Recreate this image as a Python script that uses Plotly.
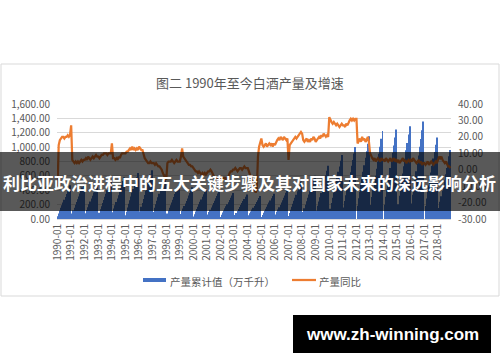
import plotly.graph_objects as go

# ---------------- data ----------------
years = list(range(1990, 2019))
month_codes = ["01", "02", "03", "04", "05", "06", "07", "08", "09", "10", "11", "12"]
categories = [f"{y}-{m}" for y in years for m in month_codes]
tick_labels = [f"{y}-01" for y in years]

left_ticks = [0, 200, 400, 600, 800, 1000, 1200, 1400, 1600]
left_tick_labels = ["0.00", "200.00", "400.00", "600.00", "800.00", "1,000.00", "1,200.00", "1,400.00", "1,600.00"]
right_ticks = [-30, -20, -10, 0, 10, 20, 30, 40]
right_tick_labels = ["-30.00", "-20.00", "-10.00", "0.00", "10.00", "20.00", "30.00", "40.00"]

# cumulative production (万千升), monthly
prod_1990s = [
    38, 75, 118, 155, 193, 230, 268, 306, 348, 385, 428, 470,
    38, 77, 120, 158, 197, 235, 274, 312, 355, 394, 437, 480,
    40, 80, 125, 165, 205, 245, 285, 325, 370, 410, 455, 500,
    43, 86, 135, 178, 221, 265, 308, 351, 400, 443, 491, 540,
    46, 93, 145, 191, 238, 284, 331, 377, 429, 476, 528, 580,
    51, 102, 160, 211, 262, 314, 365, 416, 474, 525, 582, 640,
    54, 109, 170, 224, 279, 333, 388, 442, 503, 558, 619, 680,
    50, 99, 155, 205, 254, 304, 353, 403, 459, 508, 564, 620,
    38, 75, 118, 155, 193, 230, 268, 306, 348, 385, 428, 470,
    35, 70, 110, 145, 180, 216, 251, 286, 326, 361, 400, 440,
]
prod_2000s = [
    34, 67, 105, 139, 172, 206, 239, 273, 311, 344, 382, 420,
    31, 62, 98, 129, 160, 191, 222, 254, 289, 320, 355, 390,
    29, 58, 90, 119, 148, 176, 205, 234, 266, 295, 328, 360,
    27, 54, 85, 112, 139, 167, 194, 221, 252, 279, 309, 340,
    26, 51, 80, 106, 131, 157, 182, 208, 237, 262, 291, 320,
    28, 56, 88, 116, 144, 172, 200, 228, 259, 287, 319, 350,
    32, 64, 100, 132, 164, 196, 228, 260, 296, 328, 364, 400,
    42, 83, 130, 172, 213, 255, 296, 338, 385, 426, 473, 520,
    48, 96, 150, 198, 246, 294, 342, 390, 444, 492, 546, 600,
    59, 118, 185, 244, 303, 363, 422, 481, 548, 607, 673, 740,
]
prod_2010s = [
    71, 142, 223, 294, 365, 436, 507, 579, 659, 730, 810, 890,
    80, 160, 250, 330, 410, 490, 570, 650, 740, 820, 910, 1000,
    None, 184, 288, 380, 472, 564, 656, 748, 851, 943, 1047, 1150,
    None, 196, 306, 404, 502, 600, 698, 796, 907, 1005, 1115, 1225,
    None, 199, 311, 411, 510, 610, 710, 809, 921, 1021, 1133, 1245,
    None, 206, 323, 426, 529, 632, 735, 839, 955, 1058, 1174, 1290,
    None, 217, 339, 448, 556, 665, 773, 882, 1004, 1113, 1235, 1357,
    None, 182, 284, 375, 465, 556, 647, 738, 840, 931, 1033, 1135,
    None, 154, 240, 317, 394, 470, 547, 624, 710, 787, 874, 960,
]

# year-on-year growth (%), monthly
yoy_1990s = [
    -10, 15, 18, 19, 20, 20, 19, 20, 20, 21, 20, 21,
    27, 6, 5, 4, 5, 4, 5, 4, 5, 6, 5, 6,
    6, 7, 6, 8, 7, 6, 7, 8, 7, 8, 9, 8,
    8, 7, 8, 9, 9, 10, 10, 10, 9, 10, 10, 10,
    16, 7, 7, 6, 7, 6, 8, 7, 9, 10, 10, 10,
    10, 11, 11, 12, 13, 12, 14, 12, 13, 12, 13, 12,
    14, 13, 12, 12, 9, 7, 6, 5, 4, 4, 5, 4,
    4, 4, 3, 4, 3, 2, 2, 1, 0, -2, -4, -5,
    -6, 4, 5, 5, 5, 6, 5, 4, 5, 6, 5, 5,
    5, 8, 13, 8, 7, 6, 5, 4, 3, 3, 2, 2,
]
yoy_2000s = [
    1, 0, -1, -1, -2, -1, -2, -3, -2, -3, -2, -3,
    -2, -1, -1, 0, -1, -3, -4, -5, -5, -6, -6, -5,
    -5, -6, -6, -5, -5, -6, -5, -4, -2, -1, -1, 0,
    0, 1, 0, -1, 0, 1, 1, 0, 1, 2, 1, 1,
    1, -1, -3, -5, -7, -9, -11, -14, -12, 8, 14, 16,
    19, 15, 14, 15, 16, 14, 15, 16, 15, 16, 14, 16,
    15, 17, 18, 19, 18, 20, 19, 18, 20, 19, 18, 19,
    6, 15, 16, 17, 18, 19, 20, 19, 20, 21, 22, 23,
    22, 18, 17, 18, 19, 17, 18, 17, 19, 18, 20, 19,
    17, 18, 19, 20, 19, 21, 20, 22, 21, 20, 21, 20,
]
yoy_2010s = [
    32, 30, 29, 28, 29, 28, 27, 28, 27, 26, 27, 28,
    27, 27, 26, 28, 27, 29, 30, 31, 30, 31, 30, 31,
    31, 16, 18, 19, 17, 20, 18, 19, 17, 18, 20, 17,
    10, 8, 7, 6, 7, 5, 6, 7, 6, 5, 7, 6,
    6, 5, 7, 6, 5, 6, 7, 5, 6, 7, 5, 6,
    5, 6, 4, 5, 6, 7, 5, 6, 4, 5, 6, 5,
    6, 5, 7, 6, 5, 4, 5, 6, 4, 5, 3, 4,
    4, 3, 4, 5, 3, 4, 5, 4, 3, 4, 5, 4,
    7, 8, 7, 8, 6, 5, 4, 5, 3, 2, 2, 1,
]

production = prod_1990s + prod_2000s + prod_2010s
yoy = yoy_1990s + yoy_2000s + yoy_2010s

# ---------------- layout helpers ----------------
W, H = 500, 362
L, R, T, B = 57, 49, 104, 143
PW, PH = W - L - R, H - T - B


def px(x):
    return (x - L) / PW


def py(y):
    return (H - B - y) / PH


FONT = "Noto Sans CJK SC, Noto Sans, sans-serif"
GRAY = "#595959"

fig = go.Figure()
fig.add_trace(go.Bar(
    x=categories, y=production, yaxis="y",
    marker=dict(color="#4472C4", line=dict(width=0)),
    name="产量累计值（万千升）", hoverinfo="skip",
))
fig.add_trace(go.Scatter(
    x=categories, y=yoy, yaxis="y2", mode="lines",
    line=dict(color="#ED7D31", width=2.25),
    name="产量同比", hoverinfo="skip",
))

shapes = [
    # chart panel border
    dict(type="rect", xref="paper", yref="paper", x0=px(1), x1=px(499), y0=py(296), y1=py(64),
         line=dict(color="#d9d9d9", width=1), fillcolor="rgba(0,0,0,0)", layer="below"),
    # legend samples
    dict(type="line", xref="paper", yref="paper", x0=px(143), x1=px(166), y0=py(280), y1=py(280),
         line=dict(color="#4472C4", width=4)),
    dict(type="line", xref="paper", yref="paper", x0=px(292), x1=px(316), y0=py(280), y1=py(280),
         line=dict(color="#ED7D31", width=2.25)),
    # overlay banner
    dict(type="rect", xref="paper", yref="paper", x0=px(0), x1=px(500), y0=py(211), y1=py(152),
         line=dict(width=0), fillcolor="rgba(0,0,0,0.65)", layer="above"),
    # watermark box
    dict(type="rect", xref="paper", yref="paper", x0=px(293), x1=px(491), y0=py(353), y1=py(315),
         line=dict(width=0), fillcolor="#000000", layer="above"),
]

annotations = [
    dict(text="图二 1990年至今白酒产量及增速", xref="paper", yref="paper", x=px(250), y=py(82),
         showarrow=False, xanchor="center", yanchor="middle",
         font=dict(family=FONT, size=13, color=GRAY)),
    dict(text="产量累计值（万千升）", xref="paper", yref="paper", x=px(168), y=py(281),
         showarrow=False, xanchor="left", yanchor="middle",
         font=dict(family=FONT, size=10.5, color=GRAY)),
    dict(text="产量同比", xref="paper", yref="paper", x=px(317), y=py(281),
         showarrow=False, xanchor="left", yanchor="middle",
         font=dict(family=FONT, size=10.5, color=GRAY)),
    dict(text="<b>利比亚政治进程中的五大关键步骤及其对国家未来的深远影响分析</b>", xref="paper", yref="paper",
         x=px(249), y=py(182), showarrow=False, xanchor="center", yanchor="middle",
         font=dict(family=FONT, size=17, color="#ffffff")),
    dict(text="<b>www.zh-winning.com</b>", xref="paper", yref="paper",
         x=px(392), y=py(334), showarrow=False, xanchor="center", yanchor="middle",
         font=dict(family="Liberation Sans, Arial, sans-serif", size=17, color="#ffffff")),
]

fig.update_layout(
    width=W, height=H,
    margin=dict(l=L, r=R, t=T, b=B, pad=0),
    paper_bgcolor="#ffffff", plot_bgcolor="#ffffff",
    showlegend=False, bargap=0.15,
    font=dict(family=FONT, color=GRAY, size=10),
    shapes=shapes, annotations=annotations,
    xaxis=dict(
        type="category", categoryorder="array", categoryarray=categories,
        range=[-0.5, len(categories) - 0.5],
        tickmode="array", tickvals=tick_labels, ticktext=tick_labels,
        tickangle=-90, ticks="", showgrid=False, zeroline=False,
        showline=True, linecolor="#d9d9d9", linewidth=1,
        tickfont=dict(family=FONT, size=10, color=GRAY),
    ),
    yaxis=dict(
        range=[0, 1600], tickmode="array", tickvals=left_ticks, ticktext=left_tick_labels,
        showgrid=True, gridcolor="#d9d9d9", gridwidth=1, zeroline=False, ticks="",
        showline=False, ticklabelstandoff=6,
        tickfont=dict(family=FONT, size=10, color=GRAY),
    ),
    yaxis2=dict(
        overlaying="y", side="right", range=[-30, 40],
        tickmode="array", tickvals=right_ticks, ticktext=right_tick_labels,
        showgrid=False, zeroline=False, ticks="", showline=False, ticklabelstandoff=6,
        tickfont=dict(family=FONT, size=10, color=GRAY),
    ),
)

fig.write_html(
    "out.html",
    config={"displayModeBar": False},
    post_script="document.body.style.margin='0';document.body.style.padding='0';",
)
